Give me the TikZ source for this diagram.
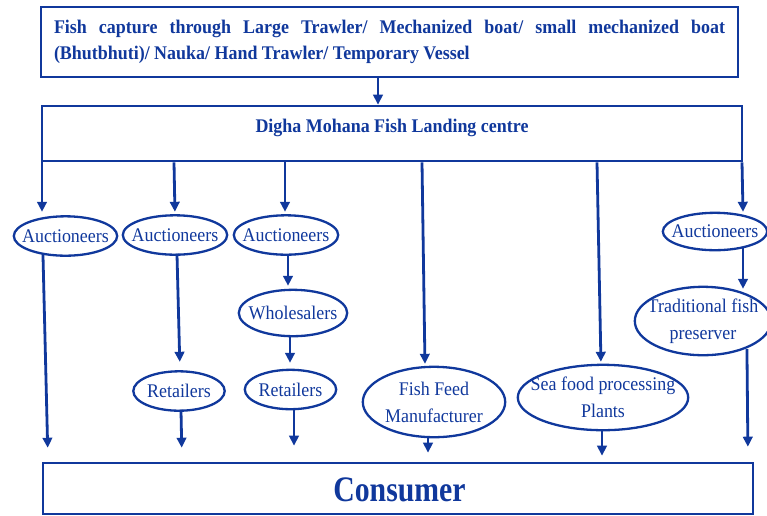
\documentclass[tikz,border=0pt]{standalone}
\usepackage{fontspec}
\setmainfont{Liberation Serif}[FakeStretch=0.93]
\usetikzlibrary{arrows.meta,calc}
\definecolor{fb}{RGB}{16,56,156}
\begin{document}
\begin{tikzpicture}[x=1pt,y=-1pt,
  box/.style={draw=fb, line width=2.6pt, rectangle, inner sep=0pt, text=fb},
  ell/.style={rectangle, inner sep=0pt, text=fb,
    font=\fontsize{19.3}{27}\selectfont, align=center},
  eline/.style={draw=fb, line width=2.3pt},
  arr/.style={draw=fb, line width=2.8pt, -{Triangle[length=10pt,width=9.5pt]}},
  lbl/.style={text=fb, inner sep=0pt}]
\useasboundingbox (0,0) rectangle (767,515);
% boxes
\node[box, minimum width=697pt, minimum height=70pt, text width=671pt, align=justify,
  font=\fontsize{19.3}{26}\selectfont\bfseries] (top) at (389.5,42)
  {Fish capture through Large Trawler/ Mechanized boat/ small mechanized boat \mbox{(Bhutbhuti)/} Nauka/ Hand Trawler/ Temporary Vessel};
\node[box, minimum width=700pt, minimum height=55pt] (land) at (392,133.5) {};
\node[lbl, font=\fontsize{19.3}{22}\selectfont\bfseries] (landtxt) at (392,127.5) {Digha Mohana Fish Landing centre};
\node[box, minimum width=710pt, minimum height=51pt] (cons) at (398,488.5) {};
\node[lbl, font=\fontsize{32}{36}\selectfont\bfseries] (constxt) at (399.5,490) {\scalebox{1}[1.12]{Consumer}};
% ellipse nodes
\node[ell, minimum width=103pt, minimum height=39pt] (a1) at (65.5,236) {Auctioneers};
\node[ell, minimum width=104pt, minimum height=39pt] (a2) at (175,235) {Auctioneers};
\node[ell, minimum width=104pt, minimum height=39pt] (a3) at (286,235) {Auctioneers};
\node[ell, minimum width=104pt, minimum height=37pt] (a4) at (715,231.5) {Auctioneers};
\node[ell, minimum width=108pt, minimum height=46pt] (wh) at (293,313) {Wholesalers};
\node[ell, minimum width=136pt, minimum height=68pt] (tr) at (703,321) {Traditional fish\\preserver};
\node[ell, minimum width=91pt, minimum height=39pt] (r1) at (179,391) {Retailers};
\node[ell, minimum width=91pt, minimum height=39pt] (r2) at (290.5,389.5) {Retailers};
\node[ell, minimum width=142pt, minimum height=70pt] (ff) at (434,402) {Fish Feed\\Manufacturer};
\node[ell, minimum width=170pt, minimum height=65pt] (sf) at (603,397.5) {Sea food processing\\Plants};
\foreach \nd in {a1,a2,a3,a4,wh,tr,r1,r2,ff,sf}{
  \path[eline] let \p1=(\nd.north east), \p2=(\nd.center) in
    (\p2) ellipse [x radius={\x1-\x2}, y radius={\y1-\y2}];
}
% connectors
\draw[arr] (top.south -| 378,0) -- (land.north -| 378,0);
\draw[arr, shorten >=4.5pt] (land.south -| 42,0) -- (a1.north -| 42,0);
\draw[arr, shorten >=3.5pt] (land.south -| 174,0) -- (a2.north -| 175,0);
\draw[arr, shorten >=3.5pt] (land.south -| 285,0) -- (a3.north -| 285,0);
\draw[arr, shorten >=3pt] (land.south -| 422,0) -- (ff.north -| 425,0);
\draw[arr, shorten >=3pt] (land.south -| 597,0) -- (sf.north -| 601,0);
\draw[arr, shorten >=1pt] (land.south -| 742,0) -- (a4.north -| 743,0);
\draw[arr, shorten <=-2pt, shorten >=14pt] (a1.south -| 43,0) -- (cons.north -| 48,0);
\draw[arr, shorten <=-1pt, shorten >=9.5pt] (a2.south -| 177,0) -- (r1.north -| 180,0);
\draw[arr, shorten >=4pt] (a3.south -| 288,0) -- (wh.north -| 288,0);
\draw[arr, shorten >=7pt] (wh.south -| 290,0) -- (r2.north -| 290,0);
\draw[arr, shorten <=-1pt, shorten >=14pt] (r1.south -| 181,0) -- (cons.north -| 182,0);
\draw[arr, shorten >=16pt] (r2.south -| 294,0) -- (cons.north -| 294,0);
\draw[arr, shorten >=9pt] (ff.south -| 428,0) -- (cons.north -| 428,0);
\draw[arr, shorten >=6pt] (sf.south -| 602,0) -- (cons.north -| 602,0);
\draw[arr, shorten <=-3pt, shorten >=-2pt] (a4.south -| 743,0) -- (tr.north -| 743,0);
\draw[arr, shorten <=-6pt, shorten >=15pt] (tr.south -| 747,0) -- (cons.north -| 748,0);
\end{tikzpicture}
\end{document}
